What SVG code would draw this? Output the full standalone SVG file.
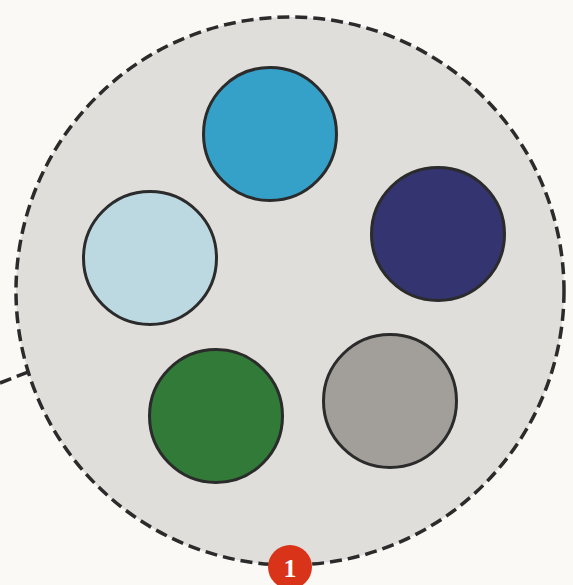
<svg xmlns="http://www.w3.org/2000/svg" width="573" height="585" viewBox="0 0 573 585">
<style>
.bg{fill:#faf9f5}
.outer{fill:#dfdedb;stroke:#2b2b2b;stroke-width:3.5;stroke-dasharray:12 6}
.node{stroke:#2b2b2b;stroke-width:3}
.conn{fill:none;stroke:#2b2b2b;stroke-width:3.5;stroke-dasharray:12 6}
.badge{fill:#d9341a}
.badge-text{fill:#ffffff;font-family:"Liberation Serif",serif;font-weight:bold;font-size:26px;text-anchor:middle}
</style>
<rect class="bg" x="0" y="0" width="573" height="585"/>
<g id="connectors">
<path class="conn" d="M0,383 L28,372"/>
</g>
<g id="cluster">
<circle class="outer" cx="290" cy="291" r="274"/>
</g>
<g id="node-blue"><circle class="node" cx="270" cy="134" r="66.5" fill="#35a0c8"/></g>
<g id="node-navy"><circle class="node" cx="438" cy="234" r="66.5" fill="#343470"/></g>
<g id="node-lightblue"><circle class="node" cx="150" cy="258" r="66.5" fill="#bcd8e0"/></g>
<g id="node-green"><circle class="node" cx="216" cy="416" r="66.5" fill="#317a37"/></g>
<g id="node-gray"><circle class="node" cx="390" cy="401" r="66.5" fill="#a29f9b"/></g>
<g id="badge">
<circle class="badge" cx="290" cy="567" r="22"/>
<text class="badge-text" x="290" y="577">1</text>
</g>
</svg>
